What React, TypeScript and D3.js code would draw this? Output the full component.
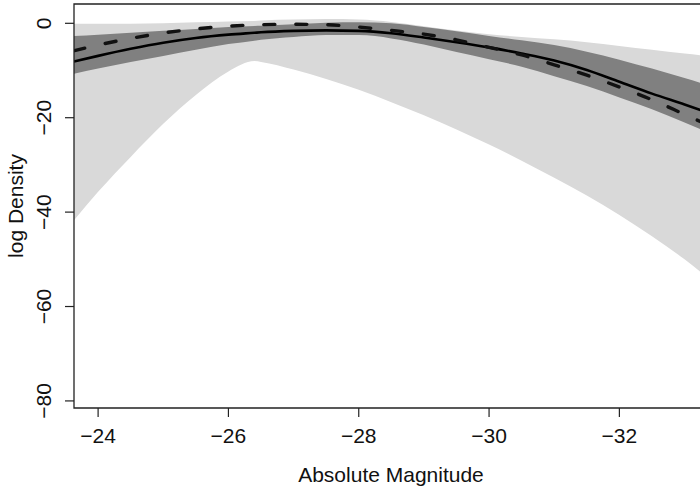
import * as d3 from "d3";

// absolute magnitude grid (x)
const mags = [-23.63, -24, -24.5, -25, -25.5, -26, -26.4, -26.5, -27, -27.5, -28, -28.5, -29, -29.5, -30, -30.5, -31, -31.5, -32, -32.5, -33, -33.4];

// wide (light) band
const lightUpper = [-0.1, -0.1, -0.1, 0, 0.2, 0.4, 0.5, 0.6, 0.8, 0.9, 0.8, 0.3, -0.6, -1.5, -2.3, -2.9, -3.4, -4.0, -4.8, -5.6, -6.4, -7.0];
const lightLower = [-41.7, -35.7, -28.3, -21.3, -15.2, -10.2, -8.0, -8.2, -9.8, -11.8, -14.1, -16.7, -19.5, -22.5, -25.7, -29.1, -32.7, -36.5, -40.6, -45.1, -50.0, -54.4];

// narrow (dark) band
const darkUpper = [-2.7, -2.4, -2.0, -1.6, -1.2, -0.8, -0.55, -0.5, -0.2, 0.1, 0.2, 0, -0.8, -1.7, -2.7, -3.6, -4.6, -6.0, -7.7, -9.6, -11.6, -13.3];
const darkLower = [-10.7, -9.6, -8.2, -6.9, -5.6, -4.4, -3.7, -3.5, -2.9, -2.5, -2.5, -3.2, -4.5, -6.1, -7.6, -9.2, -11.2, -13.3, -15.7, -18.2, -21.0, -23.4];

// estimates
const solid = [-8.1, -6.9, -5.4, -4.1, -3.1, -2.4, -2.0, -1.9, -1.6, -1.5, -1.6, -2.1, -3.0, -4.0, -5.1, -6.4, -7.9, -9.9, -12.4, -14.9, -17.2, -19.1];
const dashed = [-5.8, -4.6, -3.2, -2.05, -1.2, -0.6, -0.35, -0.3, -0.2, -0.3, -0.8, -1.5, -2.3, -3.5, -5.1, -6.7, -8.8, -11.0, -13.5, -16.2, -19.3, -21.8];

const xTicks = [-24, -26, -28, -30, -32];
const yTicks = [0, -20, -40, -60, -80];

const W = 700;
const H = 489;
const left = 74, top = 4, right = 708, bottom = 408;
const font = "'Liberation Sans', Arial, Helvetica, sans-serif";
const fs = 21;

export default function App() {
  const x = d3.scaleLinear().domain([-23.63, -33.36]).range([left, right]);
  const y = d3.scaleLinear().domain([4.09, -81.5]).range([top, bottom]);
  const fmt = d3.format("d");

  const area = (lo: number[], hi: number[]) =>
    d3.area<number>()
      .x((d, i) => x(mags[i]))
      .y0((d, i) => y(lo[i]))
      .y1((d, i) => y(hi[i]))
      .curve(d3.curveMonotoneX)(mags) || "";

  const line = (v: number[]) =>
    d3.line<number>()
      .x((d, i) => x(mags[i]))
      .y((d, i) => y(v[i]))
      .curve(d3.curveMonotoneX)(mags) || "";

  return (
    <svg width={W} height={H} style={{ position: "absolute", left: 0, top: 0, background: "#fff" }}
      fontFamily={font}>
      <defs>
        <clipPath id="plot">
          <rect x={left} y={top} width={right - left} height={bottom - top} />
        </clipPath>
      </defs>
      <g clipPath="url(#plot)">
        <path d={area(lightLower, lightUpper)} fill="#d9d9d9" />
        <path d={area(darkLower, darkUpper)} fill="#808080" />
        <path d={line(solid)} fill="none" stroke="#000" strokeWidth={2.6} />
        <path d={line(dashed)} fill="none" stroke="#111" strokeWidth={3.4}
          strokeDasharray="11 21" strokeLinecap="round" />
      </g>
      <path d={`M${right},${top}H${left}V${bottom}H${right}`} fill="none" stroke="#222" strokeWidth={1.3} />
      {xTicks.map(t => (
        <g key={t}>
          <line x1={x(t)} x2={x(t)} y1={bottom} y2={bottom + 9} stroke="#222" strokeWidth={1.2} />
          <text x={x(t)} y={443} textAnchor="middle" fontSize={fs} fill="#111">{fmt(t)}</text>
        </g>
      ))}
      {yTicks.map(t => (
        <g key={t}>
          <line x1={left - 9} x2={left} y1={y(t)} y2={y(t)} stroke="#222" strokeWidth={1.2} />
          <text transform={`translate(51,${y(t)}) rotate(-90)`} textAnchor="middle" fontSize={fs} fill="#111">{fmt(t)}</text>
        </g>
      ))}
      <text x={(left + right) / 2} y={482} textAnchor="middle" fontSize={fs} fill="#111">Absolute Magnitude</text>
      <text transform={`translate(23,${(top + bottom) / 2}) rotate(-90)`} textAnchor="middle" fontSize={fs} fill="#111">log Density</text>
    </svg>
  );
}
